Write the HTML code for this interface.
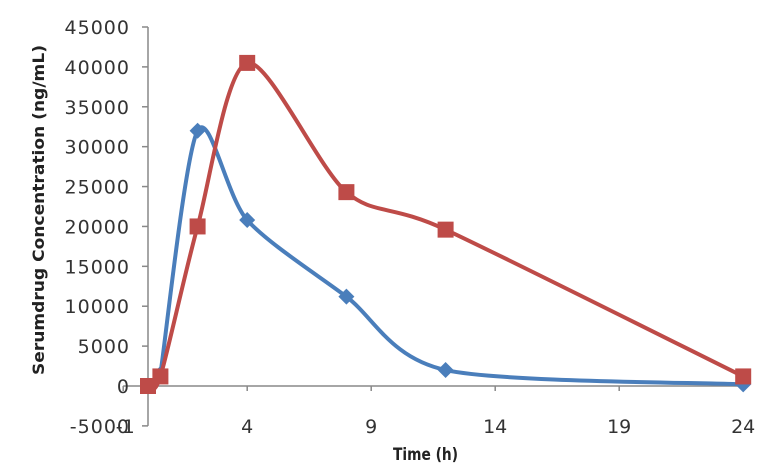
<!DOCTYPE html>
<html><head><meta charset="utf-8"><style>
body{margin:0;background:#fff;}
svg{display:block;font-family:"DejaVu Sans","Liberation Sans",sans-serif;}
</style></head><body>
<svg id="c" width="771" height="471"></svg>
<script>
const xTicks=[-1,4,9,14,19,24];
const yTicks=[-5000,0,5000,10000,15000,20000,25000,30000,35000,40000,45000];
const timesA=[0.5,2,4,8,12,24];
const seriesA=[1500,32000,20800,11200,2000,200];
const timesB=[0,0.5,2,4,8,12,24];
const seriesB=[0,1200,20000,40500,24300,19600,1200];
const NS='http://www.w3.org/2000/svg';
const svg=document.getElementById('c');
const X=v=>148+(v)*24.8;
const Y=v=>386-v*(359/45000);
function el(t,a,p){const e=document.createElementNS(NS,t);for(const k in a)e.setAttribute(k,a[k]);(p||svg).appendChild(e);return e;}
const ax=el('g',{});


el('line',{x1:X(0),y1:Y(45000),x2:X(0),y2:Y(-5000),stroke:'#888','stroke-width':1.5},ax);
el('line',{x1:X(-1),y1:Y(0),x2:X(24),y2:Y(0),stroke:'#888','stroke-width':1.5},ax);
yTicks.forEach(v=>{
 el('line',{x1:X(0)-6,y1:Y(v),x2:X(0),y2:Y(v),stroke:'#888','stroke-width':1.5},ax);
 const t=el('text',{x:130,y:Y(v)+7,'text-anchor':'end','font-size':19,'letter-spacing':1,fill:'#333'},ax);
 t.textContent=v;
 
 
});
xTicks.forEach(v=>{
 el('line',{x1:X(v),y1:Y(0),x2:X(v),y2:Y(0)+5,stroke:'#888','stroke-width':1.5},ax);
 const t=el('text',{x:X(v)+(v<0?2:0),y:Y(-5000)+7,'text-anchor':'middle','font-size':19,fill:'#333'},ax);
 t.textContent=v;
 
 
});
const xt=el('text',{x:393,y:460,'font-size':17,'font-weight':'bold',fill:'#222',textLength:65,lengthAdjust:'spacingAndGlyphs'});
xt.textContent='Time (h)';


const yt=el('text',{x:0,y:0,transform:'translate(44,210) rotate(-90)','text-anchor':'middle','font-size':16,'font-weight':'bold',fill:'#222',textLength:330,lengthAdjust:'spacingAndGlyphs'});
yt.textContent='Serumdrug Concentration (ng/mL)';


function smooth(pts){
 let d='M'+pts[0][0]+','+pts[0][1];
 for(let i=0;i<pts.length-1;i++){
  const p0=pts[i-1]||pts[i],p1=pts[i],p2=pts[i+1],p3=pts[i+2]||p2,k=0.14;
  d+=' C'+(p1[0]+(p2[0]-p0[0])*k)+','+(p1[1]+(p2[1]-p0[1])*k)+' '+(p2[0]-(p3[0]-p1[0])*k)+','+(p2[1]-(p3[1]-p1[1])*k)+' '+p2[0]+','+p2[1];
 }
 return d;
}
function series(times,vals,color,name,marker){
 const g=el('g',{});
 
 
 const pts=times.map((t,i)=>[X(t),Y(vals[i])]);
 el('path',{d:smooth(pts),fill:'none',stroke:color,'stroke-width':4},g);
 pts.forEach(p=>{
  let m;
  if(marker==='sq') m=el('rect',{x:p[0]-8,y:p[1]-8,width:16,height:16,fill:color},g);
  else m=el('polygon',{points:`${p[0]},${p[1]-8} ${p[0]+8},${p[1]} ${p[0]},${p[1]+8} ${p[0]-8},${p[1]}`,fill:color},g);
  
  
 });
}
series(timesA,seriesA,'#4a7ebb','series-blue','dia');
series(timesB,seriesB,'#be4b48','series-red','sq');
</script>
</body></html>
